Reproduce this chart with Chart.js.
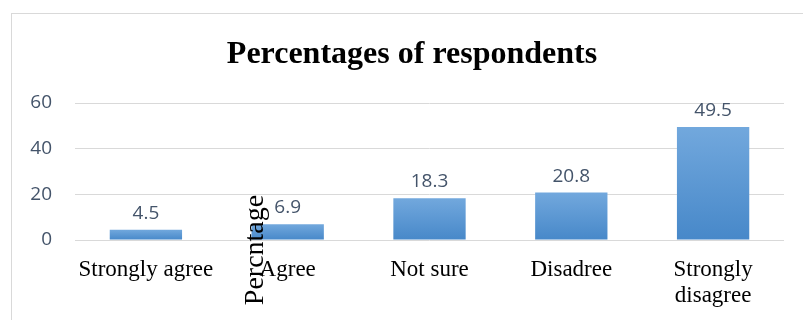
<!DOCTYPE html>
<html>
<head>
<meta charset="utf-8">
<script src="https://cdn.jsdelivr.net/npm/chart.js@4/dist/chart.umd.min.js"></script>
<style>
  html, body { margin: 0; padding: 0; background: #fff; }
  #wrap { position: relative; width: 803px; height: 320px; overflow: hidden; }
  #frame { position: absolute; left: 11px; top: 13px; width: 820px; height: 340px; border: 1px solid #d9d9d9; box-sizing: border-box; }
  canvas { position: absolute; left: 0; top: 0; }
</style>
</head>
<body>
<div id="wrap">
  <div id="frame"></div>
  <canvas id="myChart" width="803" height="320"></canvas>
</div>
<script>
const categories = ['Strongly agree', 'Agree', 'Not sure', 'Disadree', ['Strongly', 'disagree']]
const percentages = [4.5, 6.9, 18.3, 20.8, 49.5]
const yTicks = [0, 20, 40, 60]
const chartTitle = 'Percentages of respondents'
const axisTitle = 'Percntage'

const serif = '"Liberation Serif", "Times New Roman", serif'
const sans = '"Open Sans", "DejaVu Sans", sans-serif'
const labelColor = '#44546a'

// vertical gradient on each bar, lighter at the top
function barFill(ctx) {
    const chart = ctx.chart
    if (!chart.chartArea || ctx.dataIndex === undefined) return '#5b9bd5'
    const y = chart.scales.y
    const top = y.getPixelForValue(percentages[ctx.dataIndex])
    const bottom = y.getPixelForValue(0)
    const g = chart.ctx.createLinearGradient(0, top, 0, bottom)
    g.addColorStop(0, '#72a8dd')
    g.addColorStop(1, '#4788c9')
    return g
}

// value on top of every bar, title and the stray axis label
const textPlugin = {
    id: 'textPlugin',
    afterDatasetsDraw(chart) {
        const c = chart.ctx
        const meta = chart.getDatasetMeta(0)
        c.save()
        c.fillStyle = labelColor
        c.font = '19px ' + sans
        c.textAlign = 'center'
        c.textBaseline = 'alphabetic'
        meta.data.forEach((bar, i) => {
            c.fillText(percentages[i].toFixed(1), bar.x, bar.y - 11)
        })
        c.fillStyle = '#000'
        c.font = 'bold 32px ' + serif
        c.fillText(chartTitle, 412, 63)
        c.restore()
    },
    afterDraw(chart) {
        const c = chart.ctx
        c.save()
        c.translate(263, 250)
        c.rotate(-Math.PI / 2)
        c.fillStyle = '#000'
        c.font = '28px ' + serif
        c.textAlign = 'center'
        c.textBaseline = 'alphabetic'
        c.fillText(axisTitle, 0, 0)
        c.restore()
    }
}

const ctx = document.getElementById('myChart')
new Chart(ctx, {
    type: 'bar',
    data: {
        labels: categories,
        datasets: [{
            label: axisTitle,
            data: percentages,
            backgroundColor: barFill,
            borderWidth: 0,
            categoryPercentage: 1,
            barPercentage: 0.51
        }]
    },
    options: {
        responsive: false,
        animation: false,
        layout: { padding: { top: 103, right: 19, left: 0, bottom: 0 } },
        plugins: {
            legend: { display: false },
            tooltip: { enabled: false },
            title: { display: false }
        },
        scales: {
            x: {
                grid: { display: false, drawTicks: false },
                border: { display: false },
                ticks: {
                    color: '#000',
                    padding: 16,
                    maxRotation: 0,
                    autoSkip: false,
                    font: { family: serif, size: 23, lineHeight: 1.17 }
                },
                afterFit(axis) { axis.height = 80 }
            },
            y: {
                min: 0,
                max: 60,
                afterBuildTicks(axis) { axis.ticks = yTicks.map(v => ({ value: v })) },
                grid: { color: '#d9d9d9', lineWidth: 1, drawTicks: false },
                border: { display: false },
                ticks: {
                    color: labelColor,
                    padding: 23,
                    font: { family: sans, size: 19 }
                },
                afterFit(axis) { axis.width = 75 }
            }
        }
    },
    plugins: [textPlugin]
})
</script>
</body>
</html>
